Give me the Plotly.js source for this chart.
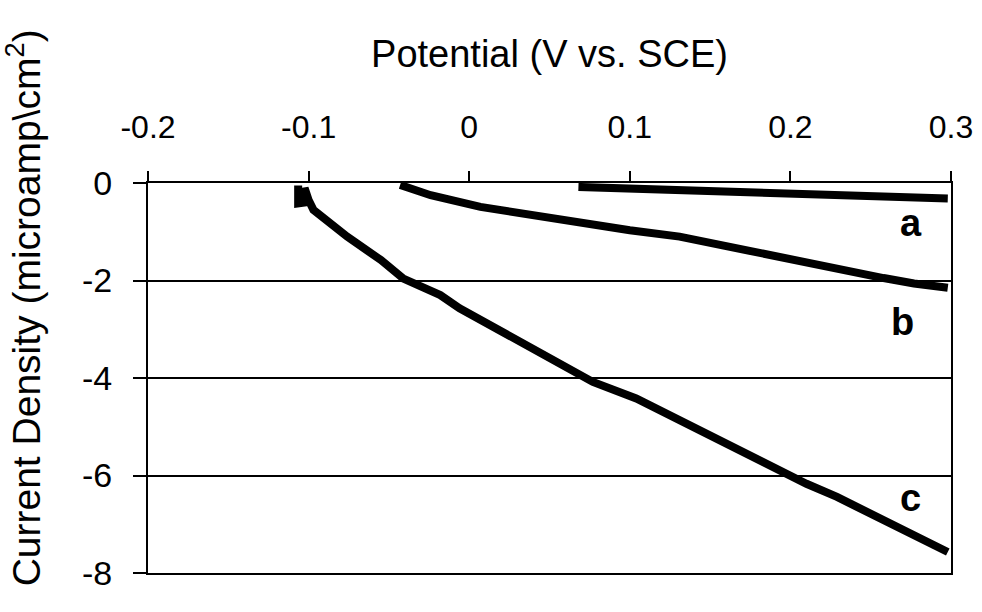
<!DOCTYPE html>
<html>
<head>
<meta charset="utf-8">
<script src="https://cdn.plot.ly/plotly-3.0.1.min.js"></script>
<style>html,body{margin:0;padding:0;background:#fff;}#chart{width:982px;height:612px;}</style>
</head>
<body>
<div id="chart"></div>
<script>
// Curve a
var potentialA = [0.068, 0.10, 0.131, 0.17, 0.21, 0.25, 0.298];
var currentA = [-0.08, -0.11, -0.14, -0.20, -0.25, -0.29, -0.32];
// Curve b
var potentialB = [-0.043, -0.024, 0.007, 0.038, 0.069, 0.100, 0.131, 0.173, 0.214, 0.246, 0.258, 0.277, 0.298];
var currentB = [-0.04, -0.25, -0.49, -0.66, -0.83, -0.97, -1.10, -1.38, -1.65, -1.90, -1.95, -2.06, -2.15];
// Curve c
var potentialC = [-0.1065, -0.1065, -0.1025, -0.1025, -0.100, -0.097, -0.076, -0.055, -0.041, -0.018, -0.006, 0.015, 0.036, 0.057, 0.077, 0.104, 0.127, 0.148, 0.169, 0.189, 0.210, 0.229, 0.268, 0.298];
var currentC = [-0.05, -0.42, -0.40, -0.10, -0.35, -0.55, -1.10, -1.58, -1.96, -2.30, -2.57, -2.95, -3.33, -3.70, -4.08, -4.42, -4.80, -5.14, -5.52, -5.86, -6.17, -6.44, -7.06, -7.57];

// Curve labels
var curveLabels = ['a', 'b', 'c'];
var labelX = [0.275, 0.270, 0.275];
var labelY = [-0.83, -2.85, -6.47];

// Ticks
var xTickVals = [-0.2, -0.1, 0, 0.1, 0.2, 0.3];
var xTickText = ['-0.2', '-0.1', '0', '0.1', '0.2', '0.3'];
var yTickVals = [0, -2, -4, -6, -8];
var yTickText = ['0', '-2', '-4', '-6', '-8'];

var font = 'Liberation Sans, Arial, sans-serif';
var lineStyle = {color: '#000', width: 8};

var traces = [
  {x: potentialA, y: currentA, mode: 'lines', line: lineStyle, name: 'a', hoverinfo: 'skip'},
  {x: potentialB, y: currentB, mode: 'lines', line: lineStyle, name: 'b', hoverinfo: 'skip'},
  {x: potentialC, y: currentC, mode: 'lines', line: lineStyle, name: 'c', hoverinfo: 'skip'}
];

var annotations = curveLabels.map(function (t, i) {
  return {x: labelX[i], y: labelY[i], xref: 'x', yref: 'y', text: t, showarrow: false,
          font: {family: font, size: 38, color: '#000', weight: 'bold'}};
});
annotations.push({
  xref: 'paper', yref: 'paper', x: -0.155, y: 0.68, xanchor: 'center', yanchor: 'middle',
  text: 'Current Density (microamp\\cm<sup>2</sup>)', textangle: -90, showarrow: false,
  font: {family: font, size: 39, color: '#000'}
});

var layout = {
  width: 982, height: 612,
  margin: {l: 148, r: 31, t: 183, b: 39},
  paper_bgcolor: '#fff', plot_bgcolor: '#fff',
  showlegend: false,
  xaxis: {
    side: 'top', range: [-0.2, 0.3], tickvals: xTickVals, ticktext: xTickText,
    ticks: 'outside', ticklen: 10, tickwidth: 2, tickcolor: '#000',
    showline: true, linecolor: '#000', linewidth: 2, mirror: true,
    showgrid: false, zeroline: false,
    tickfont: {family: font, size: 32, color: '#000'},
    ticklabelstandoff: 20,
    title: {text: 'Potential (V vs. SCE)', font: {family: font, size: 38, color: '#000'}, standoff: 30}
  },
  yaxis: {
    range: [-8, 0], tickvals: yTickVals, ticktext: yTickText,
    ticks: 'outside', ticklen: 13, tickwidth: 2, tickcolor: '#000',
    showline: true, linecolor: '#000', linewidth: 2, mirror: true,
    showgrid: true, gridcolor: '#000', gridwidth: 2, zeroline: false,
    tickfont: {family: font, size: 34, color: '#000'},
    ticklabelstandoff: 14
  },
  annotations: annotations
};

Plotly.newPlot('chart', traces, layout, {displayModeBar: false, staticPlot: true});
</script>
</body>
</html>
